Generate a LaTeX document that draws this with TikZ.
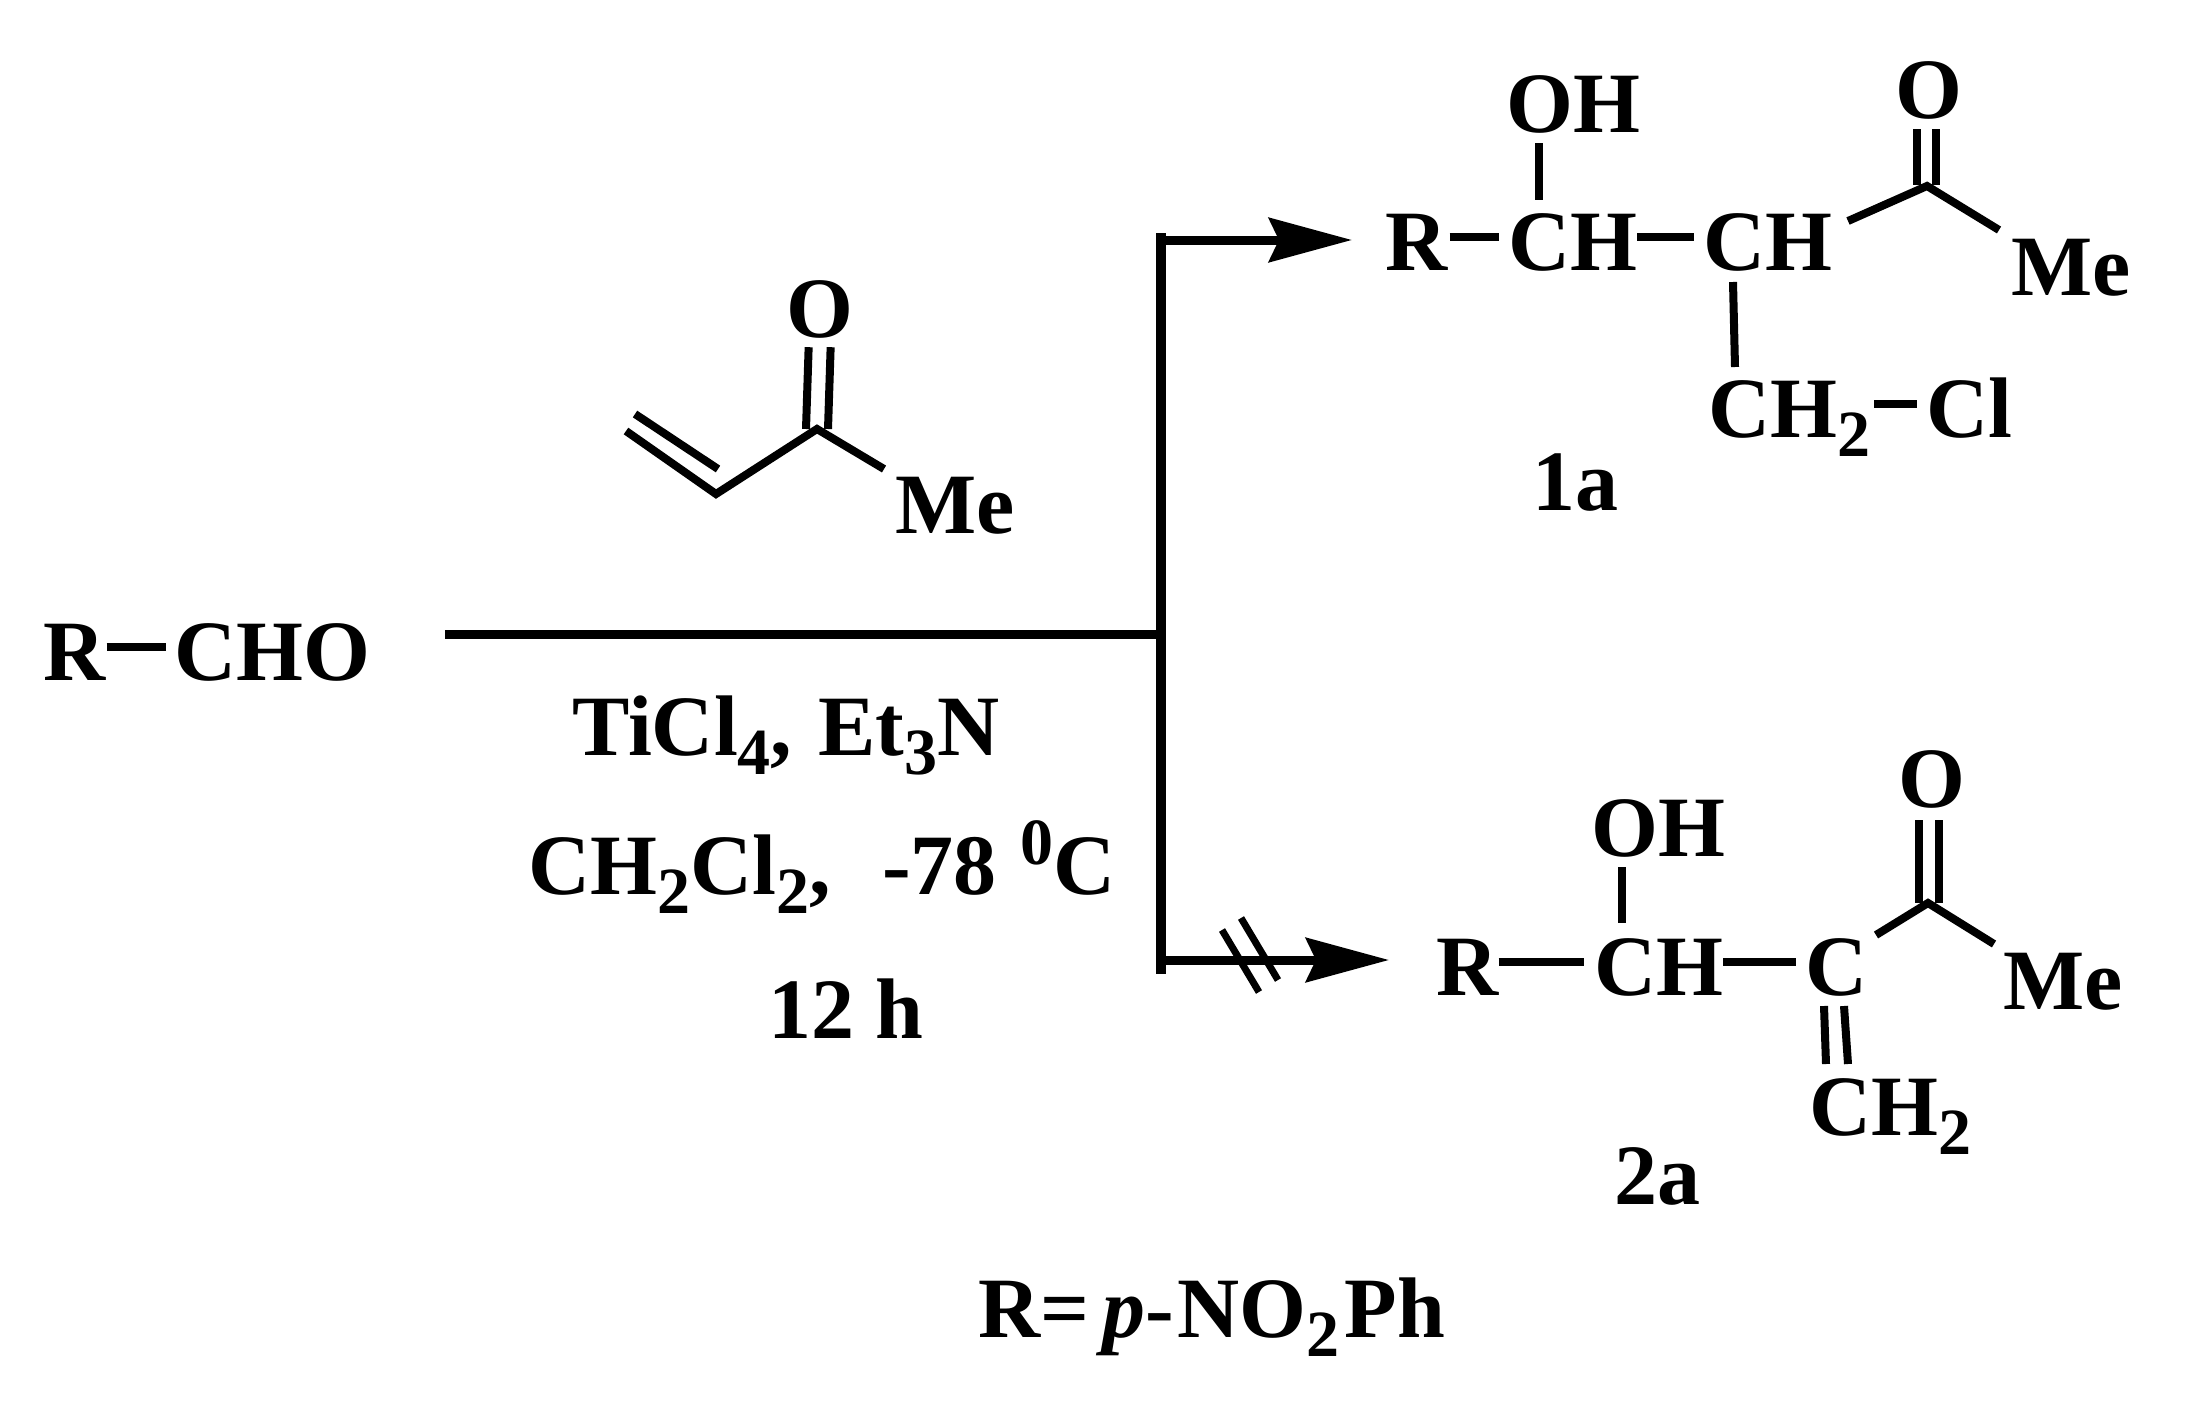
\documentclass[tikz,border=0pt]{standalone}
\usepackage{fontspec}
\setmainfont{Liberation Serif}
\usetikzlibrary{arrows.meta}

\newcommand{\lowtwo}[1]{\raisebox{-19pt}{\fontsize{66}{66}\selectfont #1}}
\newcommand{\hightwo}[1]{\raisebox{30pt}{\fontsize{66}{66}\selectfont #1}}

\tikzset{
    atom/.style={anchor=base west, inner sep=0pt, text height=66pt, text depth=0pt,
        font=\fontsize{86}{86}\selectfont\bfseries},
    bond/.style={line width=8pt},
    thinbond/.style={line width=7pt},
    rail/.style={line width=10pt},
    shaft/.style={line width=9pt, -{Stealth[length=83pt,width=44pt,inset=10pt]}}
}

\begin{document}
\begin{tikzpicture}[x=1pt,y=-1pt]
    \useasboundingbox (0,0) rectangle (2193,1408);

    % starting aldehyde
    \node[atom] (rald) at (43,680) {R};
    \node[atom] (cho) at (174,680) {CHO};
    \draw[bond] ([xshift=1pt]rald.east) -- ([xshift=-8pt]cho.west);

    % enone over the line
    \node[atom] (oenone) at (786,337) {O};
    \node[atom] (meenone) at (895,533) {Me};
    \coordinate (coenone) at (817,429);
    \coordinate (chenone) at (716,494);
    \coordinate (chtwoa) at (626,431);
    \coordinate (chtwob) at (635,414);
    \coordinate (chinner) at (718,469);
    \coordinate (meend) at (884,469);
    \draw[bond, line join=miter] (chtwoa) -- (chenone) -- (coenone) -- (meend);
    \draw[bond] (chtwob) -- (chinner);
    \draw[bond] ([xshift=-11pt]coenone) -- ([xshift=-11pt,yshift=-10pt]oenone.south);
    \draw[bond] ([xshift=11pt]coenone) -- ([xshift=11pt,yshift=-10pt]oenone.south);

    % conditions
    \node[atom] (reagent) at (572,755) {TiCl\lowtwo{4},\hspace{0.3em}Et\lowtwo{3}N};
    \node[atom] (solvent) at (528,894) {CH\lowtwo{2}Cl\lowtwo{2},\hspace{0.6em}-78\hspace{0.27em}\hightwo{0}C};
    \node[atom] (hours) at (768,1038) {12 h};

    % branching lines
    \coordinate (start) at (445,634);
    \coordinate (join) at (1161,634);
    \coordinate (railtop) at (1161,233);
    \coordinate (railbot) at (1161,974);
    \coordinate (uppers) at (1161,240);
    \coordinate (uppere) at (1352,240);
    \coordinate (lowers) at (1161,960);
    \coordinate (lowere) at (1389,960);
    \draw[rail] (railtop) -- (railbot);
    \draw[shaft, -] (start) -- (join);
    \draw[shaft] (uppers) -- (uppere);
    \draw[shaft] (lowers) -- (lowere);
    \coordinate (nota) at (1222,930);
    \coordinate (notb) at (1259,992);
    \coordinate (notc) at (1241,918);
    \coordinate (notd) at (1278,980);
    \draw[thinbond] (nota) -- (notb);
    \draw[thinbond] (notc) -- (notd);

    % product 1a
    \node[atom] (ra) at (1385,270) {R};
    \node[atom] (cha) at (1508,270) {CH};
    \node[atom] (chb) at (1703,270) {CH};
    \node[atom] (oha) at (1506,132) {OH};
    \node[atom] (oa) at (1895,118) {O};
    \node[atom] (mea) at (2011,295) {Me};
    \node[atom] (chtwo) at (1708,437) {CH\lowtwo{2}};
    \node[atom] (cl) at (1926,437) {Cl};
    \node[atom] (labela) at (1532,510) {1a};
    \coordinate (coa) at (1927,186);
    \draw[bond] ([xshift=2pt]ra.east) -- ([xshift=-9pt]cha.west);
    \draw[bond] (cha.east) -- ([xshift=-9pt]chb.west);
    \draw[bond] ([xshift=-34pt]oha.south |- 0,143) -- ([xshift=-34pt]oha.south |- 0,200);
    \draw[bond] (1733,282) -- (1735,367);
    \draw[bond] ([xshift=4pt]chtwo.east) -- ([xshift=-9pt]cl.west);
    \draw[bond, line join=miter] (1848,221) -- (coa) -- (1999,230);
    \draw[bond] (1917,129) -- (1917,185);
    \draw[bond] (1936,129) -- (1936,185);

    % product 2a
    \node[atom] (rb) at (1436,995) {R};
    \node[atom] (chc) at (1594,995) {CH};
    \node[atom] (cb) at (1805,995) {C};
    \node[atom] (ohb) at (1591,856) {OH};
    \node[atom] (ob) at (1898,807) {O};
    \node[atom] (meb) at (2003,1009) {Me};
    \node[atom] (chtwob) at (1809,1135) {CH\lowtwo{2}};
    \node[atom] (labelb) at (1614,1204) {2a};
    \coordinate (cob) at (1928,903);
    \draw[bond] (rb.east) -- ([xshift=-10pt]chc.west);
    \draw[bond] (chc.east) -- ([xshift=-9pt]cb.west);
    \draw[bond] (1622,867) -- (1622,923);
    \draw[bond, line join=miter] (1876,935) -- (cob) -- (1994,944);
    \draw[bond] (1919,820) -- (1919,903);
    \draw[bond] (1939,820) -- (1939,903);
    \draw[bond] (1824,1006) -- (1826,1064);
    \draw[bond] (1844,1006) -- (1848,1064);

    % substituent note
    \node[atom] (note) at (978,1337) {R=\hspace{0.15em}\textit{p}-\hspace{4pt}NO\lowtwo{2}\hspace{5pt}Ph};
\end{tikzpicture}
\end{document}
